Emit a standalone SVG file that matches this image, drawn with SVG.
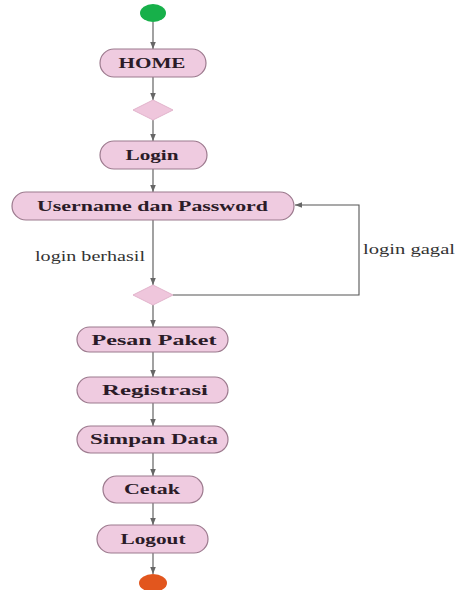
<svg xmlns="http://www.w3.org/2000/svg" width="459" height="590" viewBox="0 0 459 590">
<style>
.act{fill:#efcbe0;stroke:#9c7a8e;stroke-width:1.2}
.dec{fill:#efc6dc;stroke:#e2b4cc;stroke-width:1}
.t{font-family:"Liberation Serif","Times New Roman",serif;font-weight:bold;font-size:14px;fill:#2b1b28;text-anchor:middle}
.lbl{font-family:"Liberation Serif","Times New Roman",serif;font-size:14px;fill:#333}
.c{fill:none;stroke:#555;stroke-width:1.1}
</style>
<defs>
<marker id="ah" viewBox="0 0 10 10" refX="10" refY="5" markerWidth="7" markerHeight="7" orient="auto-start-reverse" markerUnits="userSpaceOnUse">
<path d="M0,1 L10,5 L0,9 Z" fill="#666"/>
</marker>
</defs>
<rect width="459" height="590" fill="#fff"/>
<g id="connectors">
<line class="c" x1="153" y1="22" x2="153" y2="49" marker-end="url(#ah)"/>
<line class="c" x1="153" y1="77" x2="153" y2="100" marker-end="url(#ah)"/>
<line class="c" x1="153" y1="120" x2="153" y2="141" marker-end="url(#ah)"/>
<line class="c" x1="153" y1="169" x2="153" y2="192" marker-end="url(#ah)"/>
<line class="c" x1="153" y1="220" x2="153" y2="285" marker-end="url(#ah)"/>
<polyline class="c" points="173,295 359,295 359,205 295,205" marker-end="url(#ah)"/>
<line class="c" x1="153" y1="305" x2="153" y2="327" marker-end="url(#ah)"/>
<line class="c" x1="153" y1="352" x2="153" y2="377" marker-end="url(#ah)"/>
<line class="c" x1="153" y1="403" x2="153" y2="426" marker-end="url(#ah)"/>
<line class="c" x1="153" y1="453" x2="153" y2="476" marker-end="url(#ah)"/>
<line class="c" x1="153" y1="503" x2="153" y2="525" marker-end="url(#ah)"/>
<line class="c" x1="153" y1="553" x2="153" y2="574" marker-end="url(#ah)"/>
<text class="lbl" x="35" y="261" textLength="110" lengthAdjust="spacingAndGlyphs">login berhasil</text>
<text class="lbl" x="363" y="254" textLength="92" lengthAdjust="spacingAndGlyphs">login gagal</text>
</g>
<g id="start"><ellipse cx="153" cy="13" rx="13" ry="9" fill="#17b04a"/></g>
<g id="home"><rect class="act" x="100" y="49" width="106" height="28" rx="14"/><text class="t" x="152" y="68" textLength="67" lengthAdjust="spacingAndGlyphs">HOME</text></g>
<g id="decision1"><polygon class="dec" points="153,100 173,110 153,120 133,110"/></g>
<g id="login"><rect class="act" x="100" y="141" width="107" height="28" rx="14"/><text class="t" x="152" y="160" textLength="53" lengthAdjust="spacingAndGlyphs">Login</text></g>
<g id="userpass"><rect class="act" x="12" y="192" width="282" height="28" rx="14"/><text class="t" x="152.5" y="211" textLength="231" lengthAdjust="spacingAndGlyphs">Username dan Password</text></g>
<g id="decision2"><polygon class="dec" points="153,285 173,295 153,305 133,295"/></g>
<g id="pesan"><rect class="act" x="77" y="327" width="151" height="25" rx="12.5"/><text class="t" x="154" y="345" textLength="125" lengthAdjust="spacingAndGlyphs">Pesan Paket</text></g>
<g id="registrasi"><rect class="act" x="77" y="377" width="151" height="26" rx="13"/><text class="t" x="155" y="395" textLength="106" lengthAdjust="spacingAndGlyphs">Registrasi</text></g>
<g id="simpan"><rect class="act" x="77" y="426" width="151" height="27" rx="13.5"/><text class="t" x="154" y="444" textLength="128" lengthAdjust="spacingAndGlyphs">Simpan Data</text></g>
<g id="cetak"><rect class="act" x="103" y="476" width="100" height="27" rx="13.5"/><text class="t" x="152" y="494" textLength="56" lengthAdjust="spacingAndGlyphs">Cetak</text></g>
<g id="logout"><rect class="act" x="97" y="525" width="111" height="28" rx="14"/><text class="t" x="153" y="544" textLength="65" lengthAdjust="spacingAndGlyphs">Logout</text></g>
<g id="end"><ellipse cx="153" cy="583" rx="14" ry="9" fill="#e2561e"/></g>
</svg>
